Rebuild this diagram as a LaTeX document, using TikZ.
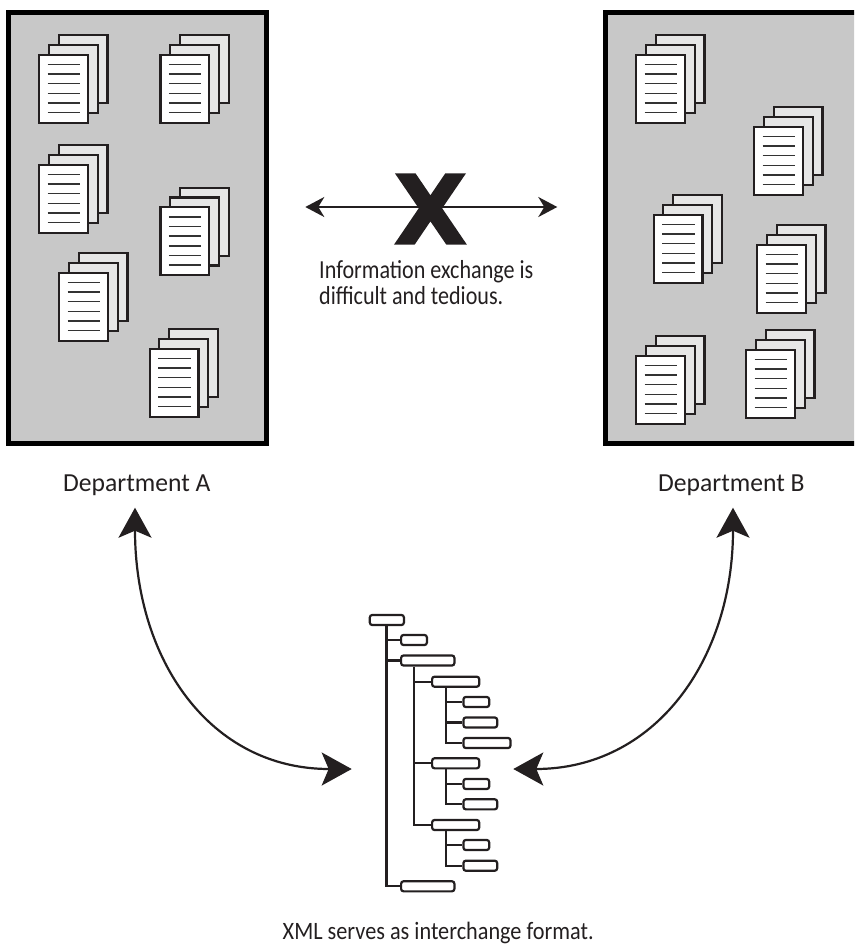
\documentclass[tikz,border=0pt]{standalone}
\usepackage{fontspec}
\setmainfont{Carlito}
\newfontfamily\deptfont[FakeStretch=0.985]{Carlito}
\newfontfamily\infofont[FakeStretch=0.85]{Carlito}
\newfontfamily\capfont[FakeStretch=0.89]{Carlito}
\newfontfamily\heavyfont[FakeBold=1.5]{DejaVu Sans Bold}
\usetikzlibrary{arrows.meta}
\definecolor{ink}{HTML}{231F20}
\definecolor{panelgray}{HTML}{C8C8C8}
\definecolor{pagegray}{HTML}{E6E6E6}
\definecolor{ruleink}{HTML}{333333}
\tikzset{
  panel/.style={draw=black,line width=4.6pt,fill=panelgray,inner sep=0pt,anchor=north west},
  page/.style={draw=ink,line width=2.2pt,inner sep=0pt,minimum width=48.8pt,minimum height=68.1pt,anchor=north west},
  backpage/.style={page,fill=pagegray},
  frontpage/.style={page,fill=white},
  pagerule/.style={draw=ruleink,line width=1.1pt},
  tbox/.style={draw=ink,line width=2.2pt,rounded corners=2.5pt,fill=white,inner sep=0pt,minimum height=10.1pt,anchor=west},
  tline/.style={draw=ink,line width=2.2pt},
  txt/.style={text=ink,inner sep=0pt,anchor=base west},
  depttxt/.style={txt,font=\deptfont\fontsize{26}{30}\selectfont},
  infotxt/.style={txt,font=\infofont\fontsize{26}{30}\selectfont},
  captxt/.style={txt,font=\capfont\fontsize{25}{29}\selectfont},
  bigarrow/.style={draw=ink,line width=2.2pt,{Stealth[length=30pt,width=33pt,inset=7pt]}-{Stealth[length=30pt,width=33pt,inset=7pt]}},
  thinarrow/.style={draw=ink,line width=2.2pt,{Stealth[length=19pt,width=20pt,inset=6pt]}-{Stealth[length=19pt,width=20pt,inset=6pt]}},
  pics/docstack/.style={code={
    \node[backpage] (-c) at (19.5pt,19.5pt) {};
    \node[backpage] (-b) at (9.7pt,9.7pt) {};
    \node[frontpage] (-a) at (0pt,0pt) {};
    \foreach \yy in {11,20.5,30,40,49.5,59}{\draw[pagerule] (9.5pt,-\yy pt) -- (42pt,-\yy pt);}
  }}
}
\begin{document}
\begin{tikzpicture}[x=1pt,y=-1pt]
\useasboundingbox (0,0) rectangle (854,945);
% panels
\node[panel,minimum width=258pt,minimum height=431.4pt] (deptA) at (6,10) {};
\begin{scope}
\clip (0,0) rectangle (854,945);
\node[panel,minimum width=270pt,minimum height=431.4pt] (deptB) at (603,10) {};
\end{scope}
% documents in A
\pic (a1) at (38,53.5) {docstack};
\pic (a2) at (159.3,53.5) {docstack};
\pic (a3) at (38,163.5) {docstack};
\pic (a4) at (159.3,206) {docstack};
\pic (a5) at (58,271.5) {docstack};
\pic (a6) at (148.5,347.5) {docstack};
% documents in B
\pic (b1) at (635,53.5) {docstack};
\pic (b2) at (753,125.5) {docstack};
\pic (b3) at (652.5,213.5) {docstack};
\pic (b4) at (756,243.5) {docstack};
\pic (b5) at (635,354.5) {docstack};
\pic (b6) at (745,348.5) {docstack};
% exchange arrow with X
\coordinate (exL) at (305.3,207);
\coordinate (exR) at (557.3,207);
\draw[thinarrow] (exL) -- (exR);
\node[inner sep=0pt,text=ink] (xmark) at (430.5,209) {\fontsize{96}{96}\selectfont\heavyfont X};
\node[infotxt] (info1) at (319,278) {Information exchange is};
\node[infotxt] (info2) at (319,304) {difficult and tedious.};
% department labels
\node[depttxt] (labA) at (63,491) {Department A};
\node[depttxt] (labB) at (658,491) {Department B};
% tree
\node[tbox,minimum width=34.1pt] (root) at (368.7,620) {};
\node[tbox,minimum width=25.8pt] (n1) at (400,640) {};
\node[tbox,minimum width=53.3pt] (n2) at (400,660.5) {};
\node[tbox,minimum width=47.1pt] (c1) at (431,681.7) {};
\node[tbox,minimum width=25.8pt] (c11) at (462.3,702) {};
\node[tbox,minimum width=33.8pt] (c12) at (462.3,722.5) {};
\node[tbox,minimum width=47.1pt] (c13) at (462.3,743) {};
\node[tbox,minimum width=47.1pt] (c2) at (431,763.3) {};
\node[tbox,minimum width=25.8pt] (c21) at (462.3,784) {};
\node[tbox,minimum width=33.8pt] (c22) at (462.3,804.3) {};
\node[tbox,minimum width=47.1pt] (c3) at (431,825) {};
\node[tbox,minimum width=25.8pt] (c31) at (462.3,845) {};
\node[tbox,minimum width=33.8pt] (c32) at (462.3,865.7) {};
\node[tbox,minimum width=53.3pt] (n3) at (400,886.3) {};
\coordinate (tA) at (386.5,0);
\coordinate (tB) at (414,0);
\coordinate (tC) at (446,0);
\draw[tline] (tA |- root.south) -- (tA |- n3) -- (n3.west);
\draw[tline] (tA |- n1) -- (n1.west);
\draw[tline] (tA |- n2) -- (n2.west);
\draw[tline] (tB |- n2.south) -- (tB |- c3) -- (c3.west);
\draw[tline] (tB |- c1) -- (c1.west);
\draw[tline] (tB |- c2) -- (c2.west);
\draw[tline] (tC |- c1.south) -- (tC |- c13) -- (c13.west);
\draw[tline] (tC |- c11) -- (c11.west);
\draw[tline] (tC |- c12) -- (c12.west);
\draw[tline] (tC |- c2.south) -- (tC |- c22) -- (c22.west);
\draw[tline] (tC |- c21) -- (c21.west);
\draw[tline] (tC |- c3.south) -- (tC |- c32) -- (c32.west);
\draw[tline] (tC |- c31) -- (c31.west);
% big arrows
\coordinate (upA) at (135,507.7);
\coordinate (treeL) at (351.7,769);
\coordinate (upB) at (733,507.7);
\coordinate (treeR) at (513.3,769);
\draw[bigarrow] (upA) .. controls (135,660) and (210,769) .. (treeL);
\draw[bigarrow] (upB) .. controls (733,660) and (655,769) .. (treeR);
\node[captxt] (xmlcap) at (282.5,939) {XML serves as interchange format.};
\end{tikzpicture}
\end{document}
